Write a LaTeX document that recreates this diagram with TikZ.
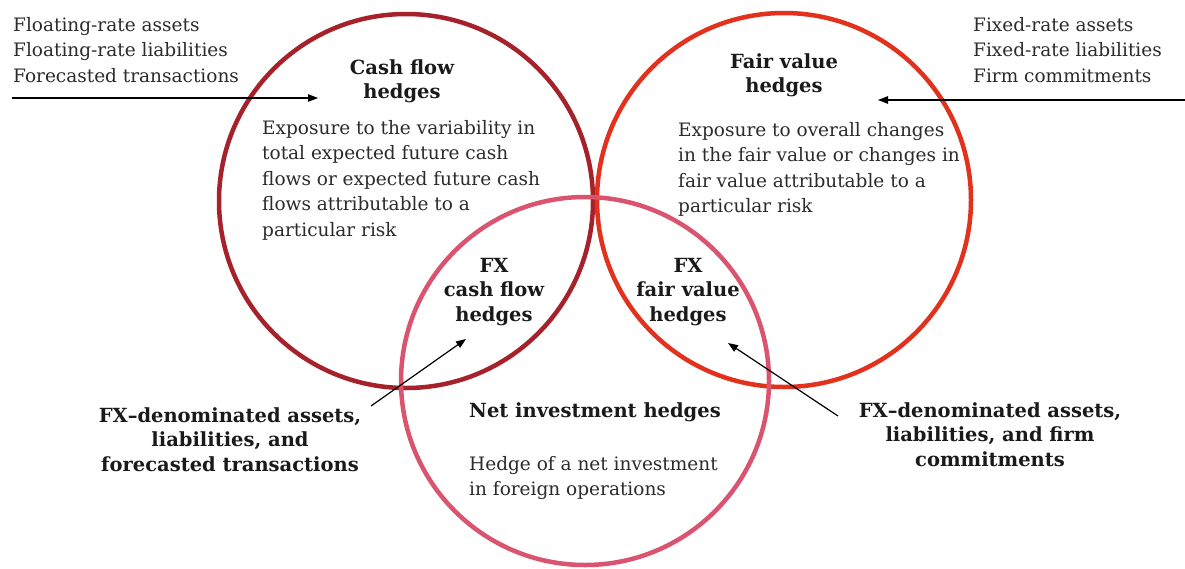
\documentclass[tikz,border=0pt]{standalone}
\usepackage{fontspec}
\setmainfont{DejaVu Serif}
\usetikzlibrary{arrows.meta}
\definecolor{cfred}{HTML}{A6222B}
\definecolor{fvred}{HTML}{E2311D}
\definecolor{nipink}{HTML}{DA5470}
\definecolor{txtgray}{HTML}{2B2B2B}
\definecolor{ttlblack}{HTML}{1A1A1A}
\begin{document}
\begin{tikzpicture}[x=1pt,y=-1pt,
  txt/.style={inner sep=0pt, text=txtgray, font=\fontsize{18.5}{25.5}\selectfont, align=left, anchor=north west},
  ttl/.style={inner sep=0pt, text=ttlblack, font=\fontsize{19.5}{24.5}\selectfont\bfseries, align=center, anchor=north},
  ring/.style={circle, draw, line width=4.5pt, inner sep=0pt},
  pointer/.style={line width=1.2pt, draw=black, -{Triangle[length=10pt,width=7.5pt]}}]
\path[use as bounding box, fill=white] (0,0) rectangle (1185,568);
% circles
\node[ring, draw=cfred, minimum size=374pt] (cf) at (406,201) {};
\node[ring, draw=fvred, minimum size=374pt] (fv) at (784,200) {};
\node[ring, draw=nipink, minimum size=368pt] (ni) at (585,381) {};
% outer inputs
\node[txt] (tl) at (13,17) {Floating-rate assets\\Floating-rate liabilities\\Forecasted transactions};
\node[txt] (tr) at (973,17) {Fixed-rate assets\\Fixed-rate liabilities\\Firm commitments};
% titles and bodies
\node[ttl] (cft) at (402,59) {Cash flow\\hedges};
\node[ttl] (fvt) at (784,53) {Fair value\\hedges};
\node[txt] (cfb) at (262,120) {Exposure to the variability in\\total expected future cash\\flows or expected future cash\\flows attributable to a\\particular risk};
\node[txt] (fvb) at (678,122) {Exposure to overall changes\\in the fair value or changes in\\fair value attributable to a\\particular risk};
\node[ttl] (fxcf) at (494,258) {FX\\cash flow\\hedges};
\node[ttl] (fxfv) at (688,258) {FX\\fair value\\hedges};
\node[ttl, anchor=north west] (nit) at (469,402) {Net investment hedges};
\node[txt] (nib) at (469,456) {Hedge of a net investment\\in foreign operations};
\node[ttl] (bl) at (230,407) {FX\textendash denominated assets,\\liabilities, and\\forecasted transactions};
\node[ttl] (br) at (990,402) {FX\textendash denominated assets,\\liabilities, and firm\\commitments};
% arrows
\coordinate (tlA) at (12,98);
\coordinate (tlB) at (318,98);
\coordinate (trA) at (1185,100);
\coordinate (trB) at (878,100);
\coordinate (blA) at (371,406);
\coordinate (blB) at (466,339);
\coordinate (brA) at (838,416);
\coordinate (brB) at (728,343);
\draw[pointer] (tlA) -- (tlB);
\draw[pointer] (trA) -- (trB);
\draw[pointer] (blA) -- (blB);
\draw[pointer] (brA) -- (brB);
\end{tikzpicture}
\end{document}
